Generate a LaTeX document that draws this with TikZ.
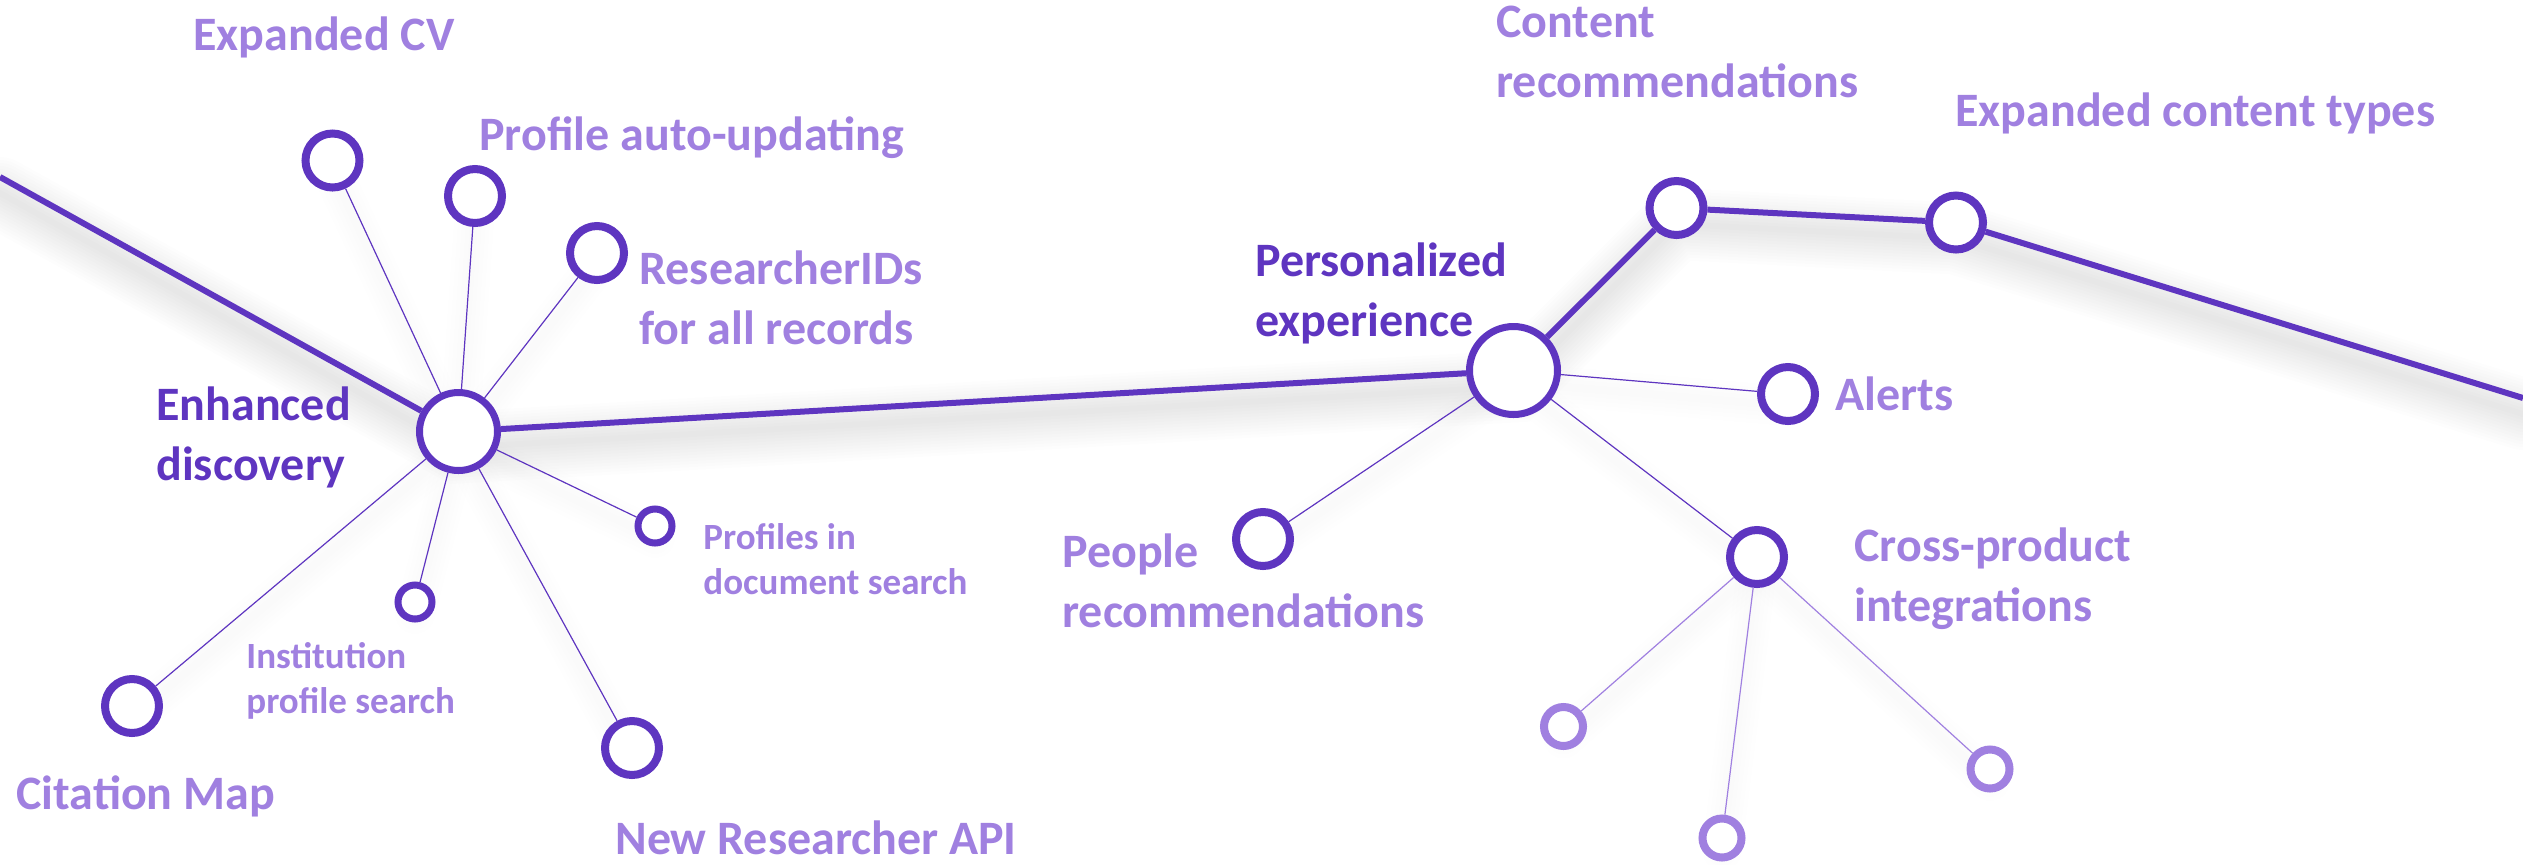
\documentclass[tikz,border=0pt]{standalone}
\usepackage{fontspec}
\setmainfont{Carlito}
\usetikzlibrary{positioning, backgrounds}
\definecolor{dark}{HTML}{5E35C0}
\definecolor{light}{HTML}{A080E0}
\tikzstyle{hub}=[circle, draw=dark, fill=white, line width=3.5pt, minimum size=39pt, inner sep=0pt]
\tikzstyle{leaf}=[hub, line width=4pt, minimum size=27pt]
\tikzstyle{dot}=[hub, line width=3.5pt, minimum size=17pt]
\tikzstyle{faint}=[hub, draw=light, line width=4pt, minimum size=19.5pt]
\tikzstyle{trunk}=[draw=dark, line width=3pt]
\tikzstyle{spoke}=[draw=dark, line width=0.6pt]
\tikzstyle{faintspoke}=[draw=light, line width=0.6pt]
\tikzstyle{shade}=[draw=black, opacity=0.009, line cap=round]
\tikzstyle{lbl}=[text=light, font=\bfseries\fontsize{24}{30}\selectfont, align=left, inner sep=0pt, anchor=west]
\tikzstyle{hublbl}=[lbl, text=dark]
\tikzstyle{smalllbl}=[lbl, font=\bfseries\fontsize{18.5}{22.5}\selectfont]

\begin{document}
\begin{tikzpicture}[x=0.5pt, y=-0.5pt]
    \useasboundingbox (0,0) rectangle (2523,864);
    \clip (0,0) rectangle (2523,864);
    % hubs and trunk ends
    \coordinate (start) at (0,177);
    \coordinate (end) at (2523,398);
    \node [hub] (disc) at (458.5,431.5) {};
    \node [hub, minimum size=44pt] (pers) at (1513.5,370.5) {};
    \node [leaf] (content) at (1676.5,208) {};
    \node [leaf] (types) at (1956,222.5) {};
    % enhanced discovery leaves
    \node [leaf] (cv) at (332.5,160.5) {};
    \node [leaf] (auto) at (475,196) {};
    \node [leaf] (rid) at (597,253) {};
    \node [dot] (docsearch) at (655,526) {};
    \node [dot] (inst) at (415,602) {};
    \node [leaf] (citemap) at (132,706) {};
    \node [leaf] (api) at (632,748) {};
    % personalized experience leaves
    \node [leaf] (alerts) at (1788,394) {};
    \node [leaf] (people) at (1263,539) {};
    \node [leaf] (cross) at (1757,557) {};
    \node [faint] (crossa) at (1563.5,726.5) {};
    \node [faint] (crossb) at (1722,838) {};
    \node [faint] (crossc) at (1990,769) {};

    % soft shadow under the trunk and spokes
    \begin{scope}[on background layer]
        \foreach \w in {3,6,...,36}
            \draw [shade, line width=\w pt] ([yshift=-8pt]start) -- ([yshift=-8pt]disc.center) -- ([yshift=-8pt]pers.center)
                -- ([yshift=-8pt]content.center) -- ([yshift=-8pt]types.center) -- ([yshift=-8pt]end);
        \foreach \w in {4,8,...,20}
            \foreach \leaf/\root in {cv/disc, auto/disc, rid/disc, docsearch/disc, inst/disc, citemap/disc, api/disc,
                    alerts/pers, people/pers, cross/pers, crossa/cross, crossb/cross, crossc/cross}
                \draw [shade, opacity=0.005, line width=\w pt] ([yshift=-6pt]\root.center) -- ([yshift=-6pt]\leaf.center);
    \end{scope}

    \path [trunk] (start) -- (disc) -- (pers) -- (content) -- (types) -- (end);
    \foreach \leaf in {cv, auto, rid, docsearch, inst, citemap, api}
        \path [spoke] (disc) -- (\leaf);
    \foreach \leaf in {alerts, people, cross}
        \path [spoke] (pers) -- (\leaf);
    \foreach \leaf in {crossa, crossb, crossc}
        \path [faintspoke] (cross) -- (\leaf);

    % labels
    \node [hublbl] (disclbl) at (156,437) {Enhanced\\discovery};
    \node [hublbl] (perslbl) at (1255,293) {Personalized\\experience};
    \node [lbl] (cvlbl) at (193,37) {Expanded CV};
    \node [lbl] (autolbl) at (479,138) {Profile auto-updating};
    \node [lbl] (ridlbl) at (639,298) {ResearcherIDs\\for all records};
    \node [smalllbl] (docsearchlbl) at (703,559) {Profiles in\\document search};
    \node [smalllbl] (instlbl) at (246,681) {Institution\\profile search};
    \node [lbl] (citemaplbl) at (16,796) {Citation Map};
    \node [lbl] (apilbl) at (615,838) {New Researcher API};
    \node [lbl] (contentlbl) at (1496,52) {Content\\recommendations};
    \node [lbl] (typeslbl) at (1955,113) {Expanded content types};
    \node [lbl, right=8pt of alerts] (alertslbl) {Alerts};
    \node [lbl] (peoplelbl) at (1062,581) {People\\recommendations};
    \node [lbl] (crosslbl) at (1854,579) {Cross-product\\integrations};
\end{tikzpicture}
\end{document}
